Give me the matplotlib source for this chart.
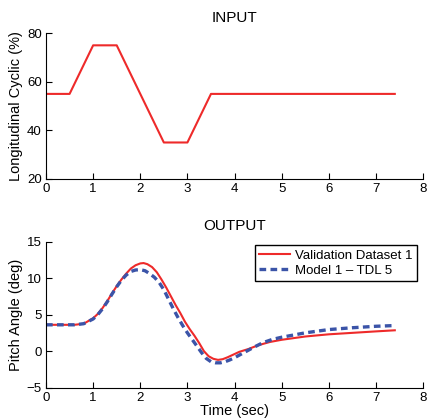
#!/usr/bin/env python3
"""INPUT / OUTPUT step response chart -> out.png"""
import matplotlib
matplotlib.use("Agg")
import matplotlib.pyplot as plt

# input: longitudinal cyclic (%)
t_in   = [0.0, 0.5, 1.0, 1.5, 2.5, 3.0, 3.5, 7.4]
cyc_in = [55, 55, 75, 75, 35, 35, 55, 55]

# output: pitch angle (deg), validation dataset
t_val = [0.0, 0.6, 0.8, 1.0, 1.1, 1.2, 1.3, 1.4, 1.5, 1.6, 1.7, 1.8, 1.9, 2.0, 2.07,
         2.15, 2.25, 2.35, 2.45, 2.55, 2.65, 2.75, 2.85, 2.95, 3.05, 3.15, 3.25, 3.35,
         3.45, 3.55, 3.65, 3.75, 3.85, 3.95, 4.1, 4.3, 4.5, 4.75, 5.0, 5.5, 6.0, 6.5,
         7.0, 7.4]
p_val = [3.6, 3.6, 3.75, 4.5, 5.1, 5.9, 6.85, 7.9, 8.9, 9.8, 10.6, 11.3, 11.75, 12.0, 12.05,
         11.9, 11.5, 10.8, 9.8, 8.7, 7.5, 6.3, 5.2, 4.0, 3.0, 2.1, 1.1, 0.0,
         -0.7, -1.05, -1.2, -1.1, -0.85, -0.55, -0.1, 0.3, 0.8, 1.25, 1.55, 2.0, 2.3, 2.5,
         2.7, 2.85]

# model 1 - TDL 5
t_mod = [0.0, 0.6, 0.8, 1.0, 1.1, 1.2, 1.3, 1.4, 1.5, 1.6, 1.7, 1.8, 1.9, 2.0, 2.1,
         2.2, 2.3, 2.4, 2.5, 2.6, 2.7, 2.8, 2.9, 3.0, 3.1, 3.2, 3.3, 3.4, 3.5, 3.6,
         3.7, 3.8, 3.9, 4.0, 4.2, 4.4, 4.6, 4.8, 5.0, 5.5, 6.0, 6.5, 7.0, 7.4]
p_mod = [3.6, 3.6, 3.75, 4.4, 5.0, 5.8, 6.75, 7.8, 8.8, 9.7, 10.4, 10.9, 11.1, 11.15, 11.0,
         10.6, 10.1, 9.4, 8.4, 7.1, 5.8, 4.6, 3.5, 2.5, 1.6, 0.7, -0.2, -1.0, -1.45, -1.6,
         -1.6, -1.45, -1.2, -0.9, -0.2, 0.5, 1.15, 1.6, 1.9, 2.5, 2.95, 3.2, 3.4, 3.5]

RED  = "#ee2a2a"
BLUE = "#3b54a8"

plt.rcParams["font.family"] = ["Liberation Sans", "DejaVu Sans"]
plt.rcParams["font.size"] = 10


def style(ax):
    ax.spines["top"].set_visible(False)
    ax.spines["right"].set_visible(False)
    ax.tick_params(direction="in", length=4, width=0.8, labelsize=9.5, pad=3)
    ax.set_xlim(0, 8)


fig = plt.figure(figsize=(4.28, 4.2), dpi=100)
ax1 = fig.add_axes([0.1075, 0.574, 0.881, 0.347])
ax2 = fig.add_axes([0.1075, 0.077, 0.881, 0.348])

ax1.plot(t_in, cyc_in, color=RED, lw=1.5)
style(ax1)
ax1.set_ylim(20, 80)
ax1.set_yticks([20, 40, 60, 80])
ax1.set_ylabel("Longitudinal Cyclic (%)", fontsize=10.5, labelpad=3)
ax1.set_title("INPUT", fontsize=11, pad=8)

ax2.plot(t_val, p_val, color=RED, lw=1.5, label="Validation Dataset 1")
ax2.plot(t_mod, p_mod, color=BLUE, lw=2.4, ls=(0, (2.0, 1.3)), label="Model 1 \u2013 TDL 5")
style(ax2)
ax2.set_ylim(-5, 15)
ax2.set_yticks([-5, 0, 5, 10, 15])
ax2.set_yticklabels(["\u22125", "0", "5", "10", "15"])
ax2.set_ylabel("Pitch Angle (deg)", fontsize=10.5, labelpad=3)
ax2.set_xlabel("Time (sec)", fontsize=10.5, labelpad=0)
ax2.set_title("OUTPUT", fontsize=11, pad=8)
leg = ax2.legend(loc="upper right", bbox_to_anchor=(0.984, 0.977), borderaxespad=0,
                 fancybox=False, framealpha=1, edgecolor="black", fontsize=9.5,
                 handlelength=2.3, handletextpad=0.4, borderpad=0.35, labelspacing=0.2)
leg.get_frame().set_linewidth(1.0)

fig.savefig("out.png", dpi=100)
